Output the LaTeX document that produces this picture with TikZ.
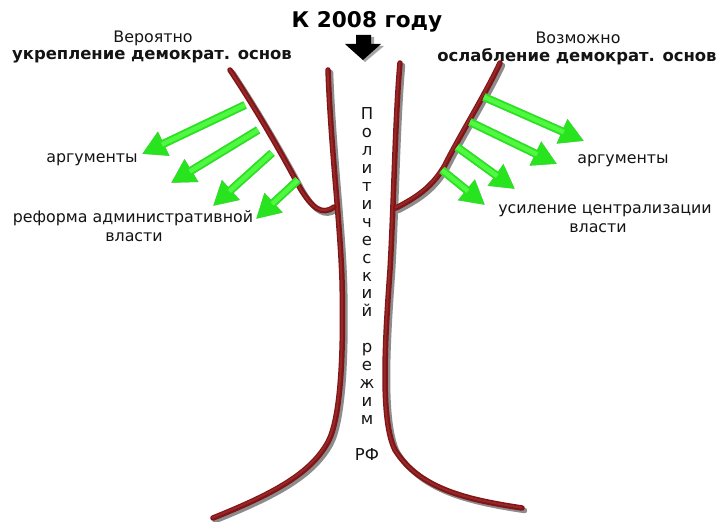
\documentclass[tikz,border=0pt]{standalone}
\usepackage{fontspec}
\setmainfont{DejaVu Sans}
\usetikzlibrary{arrows.meta}
\definecolor{trunkred}{RGB}{128,20,22}
\definecolor{trunkhi}{RGB}{150,40,40}
\definecolor{agreen}{RGB}{40,228,30}
\definecolor{agreenhi}{RGB}{80,248,66}
\definecolor{txt}{RGB}{20,20,20}
\begin{document}
\begin{tikzpicture}[x=1bp,y=-1bp,
  lbl/.style={text=txt,font=\fontsize{15.9}{18}\selectfont,inner sep=0pt},
  blbl/.style={text=txt,font=\fontsize{16.5}{18}\selectfont\bfseries,inner sep=0pt},
  ttl/.style={text=black,font=\fontsize{21.7}{24}\selectfont\bfseries,inner sep=0pt},
  trunkshadow/.style={line width=5.5bp,black!45,line cap=round,shift={(2.5,2.5)}},
  trunkline/.style={line width=5.5bp,trunkred,line cap=round},
  trunkhigh/.style={line width=2bp,trunkhi,line cap=round,shift={(-0.5,-0.4)}},
  garrow/.style={line width=8bp,agreen,-{Triangle[width=25bp,length=24bp]}},
  ghigh/.style={line width=4.5bp,agreenhi,shift={(-0.5,-1)},shorten >=22bp},
  gshadow/.style={line width=8bp,black!35,-{Triangle[width=25bp,length=24bp]},shift={(3,3)}},
]
\useasboundingbox (0,0) rectangle (717,522);
\fill[white] (0,0) rectangle (717,522);

% ---- trunk paths
\def\lefttrunk{(328,70) .. controls (331,150) and (340,220) .. (342,280) .. controls (344,360) and (340,420) .. (328,442) .. controls (310,475) and (270,495) .. (213,518)}
\def\righttrunk{(400,63) .. controls (395,120) and (394,200) .. (390,270) .. controls (385,340) and (380,420) .. (395,450) .. controls (420,490) and (470,500) .. (522,508)}
\def\leftbranch{(230,70) .. controls (260,115) and (285,160) .. (300,188) .. controls (312,208) and (322,216) .. (334,207)}
\def\rightbranch{(396,208) .. controls (415,198) and (432,188) .. (445,165) .. controls (460,135) and (485,95) .. (500,63)}

\foreach \p in {\lefttrunk,\righttrunk,\leftbranch,\rightbranch}{
  \draw[trunkshadow] \p;
}
\foreach \p in {\lefttrunk,\righttrunk,\leftbranch,\rightbranch}{
  \draw[trunkline] \p;
  \draw[trunkhigh] \p;
}

% ---- arrow coordinates
\coordinate (l1s) at (245,105); \coordinate (l1e) at (142,154);
\coordinate (l2s) at (258,130); \coordinate (l2e) at (171,183);
\coordinate (l3s) at (272,153); \coordinate (l3e) at (213,206);
\coordinate (l4s) at (298,180); \coordinate (l4e) at (256,219);
\coordinate (r1s) at (484,97);  \coordinate (r1e) at (584,141);
\coordinate (r2s) at (470,122); \coordinate (r2e) at (557,164);
\coordinate (r3s) at (457,147); \coordinate (r3e) at (515,189);
\coordinate (r4s) at (442,170); \coordinate (r4e) at (485,205);

\foreach \a in {l1,l2,l3,l4,r1,r2,r3,r4}{
  \draw[gshadow] (\a s) -- (\a e);
}
\foreach \a in {l1,l2,l3,l4,r1,r2,r3,r4}{
  \draw[garrow] (\a s) -- (\a e);
  \draw[ghigh] (\a s) -- (\a e);
}

% ---- title and arrow
\node[ttl] (title) at (367,22) {К 2008 году};
\fill[black!35] (358,37) -- (374,37) -- (374,46) -- (384,46) -- (365,62) -- (347,46) -- (358,46) -- cycle;
\fill[black] (356,35) -- (371,35) -- (371,44) -- (381,44) -- (363,60) -- (345,44) -- (356,44) -- cycle;

% ---- top labels
\node[lbl] (ver) at (153,38) {Вероятно};
\node[blbl] (ukr) at (152,57) {укрепление демократ. основ};
\node[lbl] (voz) at (578,38) {Возможно};
\node[blbl] (osl) at (577,57) {ослабление демократ. основ};

% ---- side labels
\node[lbl] (argl) at (92,160) {аргументы};
\node[lbl] (refl) at (133,218) {реформа административной};
\node[lbl] (vlastl) at (134,237) {власти};
\node[lbl] (argr) at (623,161) {аргументы};
\node[lbl] (usil) at (605,211) {усиление централизации};
\node[lbl] (vlastr) at (598,228) {власти};

% ---- vertical text
\node[lbl,align=center,font=\fontsize{16.5}{18}\selectfont] (vert) at (367,284)
 {П\\о\\л\\и\\т\\и\\ч\\е\\с\\к\\и\\й\\\strut\\р\\е\\ж\\и\\м\\\strut\\РФ};
\end{tikzpicture}
\end{document}
